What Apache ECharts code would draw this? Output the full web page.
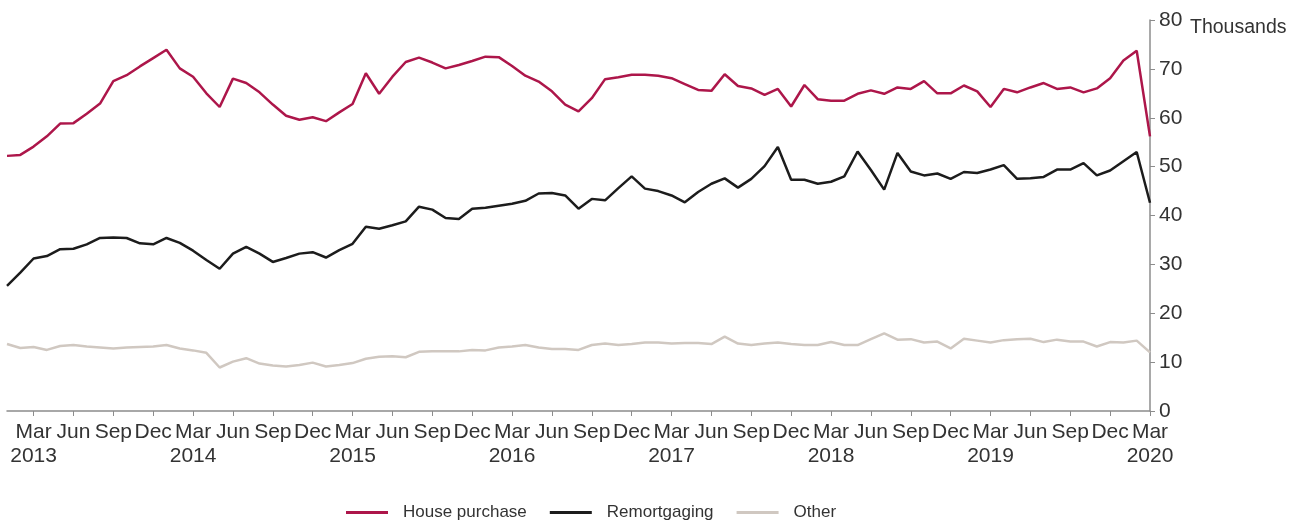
<!DOCTYPE html>
<html>
<head>
<meta charset="utf-8">
<script src="https://cdn.jsdelivr.net/npm/echarts@6/dist/echarts.min.js"></script>
<style>
  html, body { margin: 0; padding: 0; background: #fff; }
  #chart { width: 1302px; height: 520px; }
</style>
</head>
<body>
<div id="chart"></div>
<script>
// monthly, Jan 2013 - Mar 2020 (thousands)
const monthNames = ['Jan', 'Feb', 'Mar', 'Apr', 'May', 'Jun', 'Jul', 'Aug', 'Sep', 'Oct', 'Nov', 'Dec'];
const startYear = 2013;
const categories = [];
for (let i = 0; i < 87; i++) {
  categories.push((startYear + Math.floor(i / 12)) + '-' + monthNames[i % 12]);
}

const housePurchase = [
  52.2, 52.4, 54.1, 56.2, 58.8, 58.9, 60.8, 62.9, 67.5, 68.7, 70.5, 72.2, 73.9, 70.1, 68.4,
  65.0, 62.2, 68.0, 67.1, 65.2, 62.7, 60.4, 59.6, 60.1, 59.3, 61.1, 62.8, 69.1, 64.9,
  68.4, 71.4, 72.3, 71.3, 70.1, 70.8, 71.6, 72.5, 72.4, 70.6, 68.6, 67.4, 65.4, 62.7, 61.3,
  64.0, 67.9, 68.3, 68.8, 68.8, 68.6, 68.1, 66.9, 65.7, 65.5, 68.9, 66.5, 66.0, 64.7, 65.9,
  62.3, 66.7, 63.8, 63.5, 63.5, 64.9, 65.6, 64.9, 66.2, 65.9, 67.5, 65.0, 65.0, 66.6, 65.4,
  62.2, 65.9, 65.2, 66.2, 67.1, 65.9, 66.2, 65.2, 66.0, 68.1, 71.7, 73.7, 56.2
];
const remortgaging = [
  25.6, 28.3, 31.2, 31.7, 33.1, 33.2, 34.1, 35.4, 35.5, 35.4, 34.3, 34.1, 35.4, 34.4, 32.8,
  30.9, 29.1, 32.2, 33.6, 32.2, 30.5, 31.3, 32.2, 32.5, 31.4, 32.9, 34.2, 37.7, 37.3,
  38.0, 38.8, 41.8, 41.2, 39.5, 39.3, 41.4, 41.6, 42.0, 42.4, 43.0, 44.5, 44.6, 44.1, 41.4,
  43.4, 43.1, 45.6, 48.0, 45.5, 45.0, 44.1, 42.7, 44.8, 46.5, 47.6, 45.7, 47.5, 50.1, 54.0,
  47.3, 47.3, 46.5, 46.9, 48.0, 53.1, 49.3, 45.3, 52.8, 49.0, 48.2, 48.6, 47.5, 48.9, 48.7,
  49.4, 50.3, 47.5, 47.6, 47.9, 49.4, 49.4, 50.7, 48.2, 49.2, 51.1, 53.0, 42.6
];
const other = [
  13.7, 12.9, 13.1, 12.5, 13.3, 13.5, 13.2, 13.0, 12.8, 13.0, 13.1, 13.2, 13.5, 12.8, 12.4,
  11.9, 8.9, 10.1, 10.8, 9.7, 9.3, 9.1, 9.4, 9.9, 9.1, 9.4, 9.8, 10.7, 11.1,
  11.2, 11.0, 12.1, 12.2, 12.2, 12.2, 12.5, 12.4, 13.0, 13.2, 13.5, 13.0, 12.7, 12.7, 12.5,
  13.5, 13.8, 13.5, 13.7, 14.0, 14.0, 13.8, 13.9, 13.9, 13.7, 15.2, 13.8, 13.5, 13.8, 14.0,
  13.7, 13.5, 13.5, 14.1, 13.5, 13.5, 14.7, 15.9, 14.6, 14.7, 14.0, 14.2, 12.8, 14.8, 14.4,
  14.0, 14.5, 14.7, 14.8, 14.1, 14.6, 14.2, 14.2, 13.2, 14.1, 14.0, 14.4, 12.0
];
const yTicks = { min: 0, max: 80, interval: 10 };

const font = 'Liberation Sans, Arial, sans-serif';
const chart = echarts.init(document.getElementById('chart'));

// ticks and labels on Mar / Jun / Sep / Dec only
const quarterly = (idx) => idx % 3 === 2;

chart.setOption({
  animation: false,
  textStyle: { fontFamily: font },
  grid: { left: 7, right: 152, top: 20, bottom: 109 },
  legend: {
    left: 341,
    top: 499,
    icon: 'rect',
    itemWidth: 42,
    itemHeight: 3,
    itemGap: 23,
    textStyle: { fontSize: 17, color: '#333', padding: [0, 0, 0, 10] },
    data: ['House purchase', 'Remortgaging', 'Other']
  },
  graphic: [{
    type: 'text',
    left: 1190,
    top: 18,
    style: { text: 'Thousands', fontSize: 19.5, fill: '#333', fontFamily: font }
  }],
  xAxis: {
    type: 'category',
    data: categories,
    boundaryGap: false,
    axisLine: { lineStyle: { color: '#8c8c8c', width: 1.5 } },
    axisTick: { interval: quarterly, length: 5, lineStyle: { color: '#8c8c8c' } },
    axisLabel: {
      interval: 0,
      showMinLabel: true,
      showMaxLabel: true,
      hideOverlap: false,
      color: '#333',
      fontSize: 21,
      lineHeight: 24,
      margin: 9,
      formatter: (val, idx) => {
        if (!quarterly(idx)) return '';
        const [yr, mon] = val.split('-');
        return mon === 'Mar' ? mon + '\n' + yr : mon;
      }
    },
    splitLine: { show: false }
  },
  yAxis: {
    type: 'value',
    position: 'right',
    min: yTicks.min,
    max: yTicks.max,
    interval: yTicks.interval,
    axisLine: { show: true, lineStyle: { color: '#8c8c8c', width: 1.5 } },
    axisTick: { show: true, length: 5, lineStyle: { color: '#8c8c8c' } },
    axisLabel: { color: '#333', fontSize: 21, margin: 9 },
    splitLine: { show: false }
  },
  series: [
    {
      name: 'House purchase',
      type: 'line',
      data: housePurchase,
      symbol: 'none',
      lineStyle: { color: '#ad164a', width: 2.5 },
      itemStyle: { color: '#ad164a' }
    },
    {
      name: 'Remortgaging',
      type: 'line',
      data: remortgaging,
      symbol: 'none',
      lineStyle: { color: '#1c1c1c', width: 2.5 },
      itemStyle: { color: '#1c1c1c' }
    },
    {
      name: 'Other',
      type: 'line',
      data: other,
      symbol: 'none',
      lineStyle: { color: '#d0c8c1', width: 2.5 },
      itemStyle: { color: '#d0c8c1' }
    }
  ]
});
</script>
</body>
</html>
